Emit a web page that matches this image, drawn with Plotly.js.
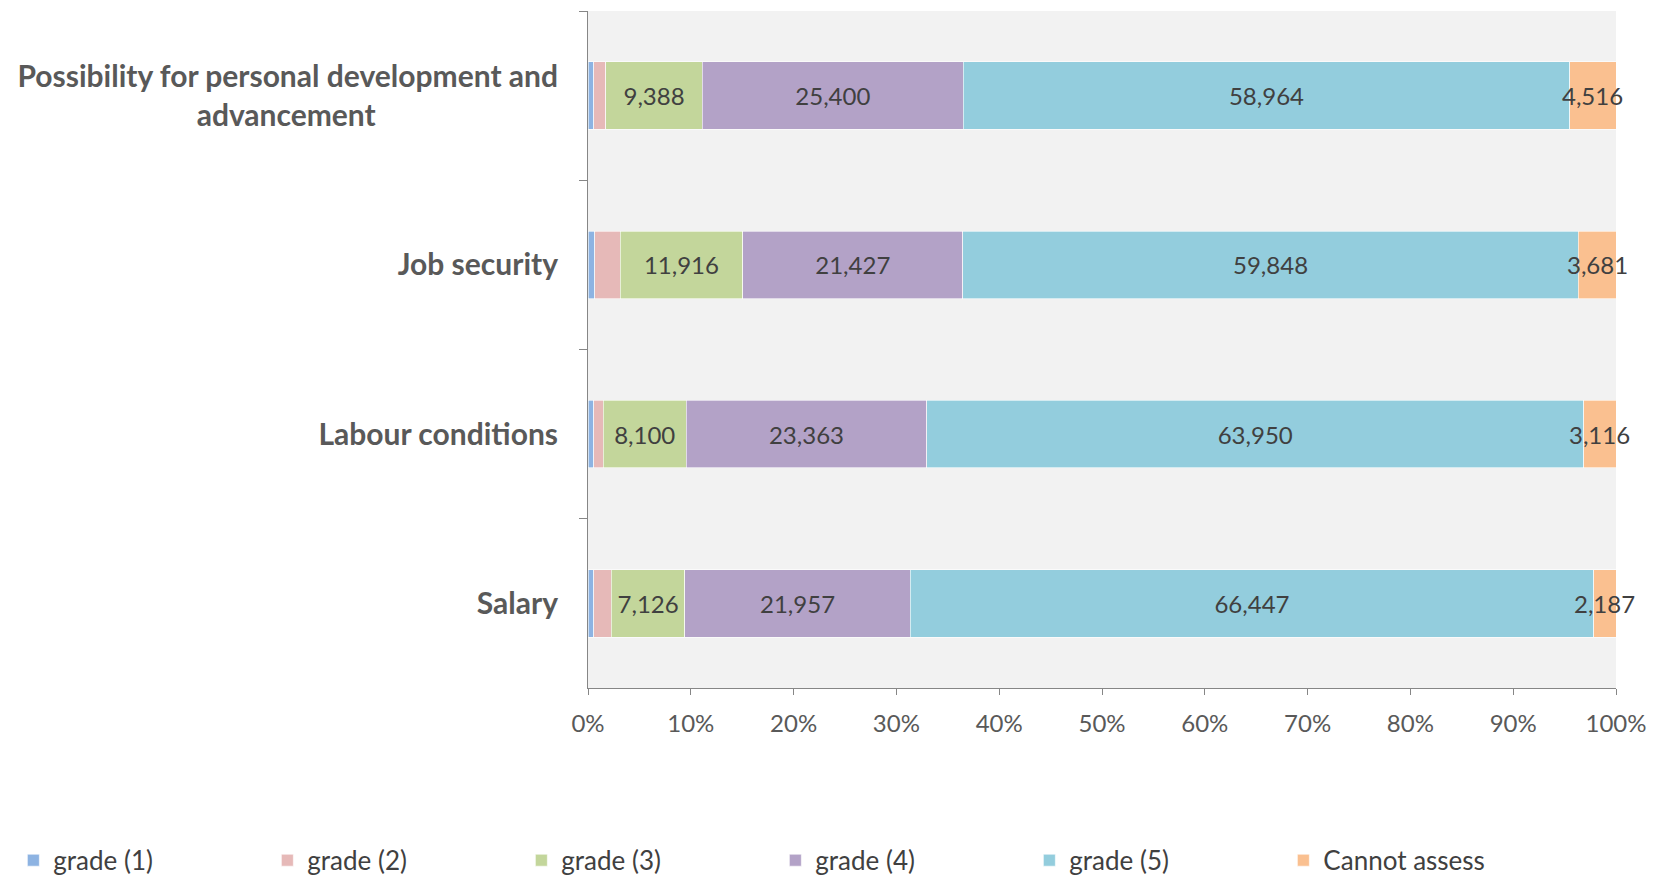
<!DOCTYPE html>
<html>
<head>
<meta charset="utf-8">
<script src="https://cdn.plot.ly/plotly-3.0.1.min.js"></script>
<style>html,body{margin:0;padding:0;background:#fff;}#chart{width:1660px;height:877px;}</style>
</head>
<body>
<div id="chart"></div>
<script>
const categories = [
  "Possibility for personal development and<br>advancement",
  "Job security",
  "Labour conditions",
  "Salary"
];
const seriesNames = ["grade (1)", "grade (2)", "grade (3)", "grade (4)", "grade (5)", "Cannot assess"];
const grade1 = [560, 680, 580, 580];
const grade2 = [1170, 2450, 890, 1700];
const grade3 = [9388, 11916, 8100, 7126];
const grade4 = [25400, 21427, 23363, 21957];
const grade5 = [58964, 59848, 63950, 66447];
const cannotAssess = [4516, 3681, 3116, 2187];
const xTickVals = [0, 10, 20, 30, 40, 50, 60, 70, 80, 90, 100];
const xTickText = ["0%", "10%", "20%", "30%", "40%", "50%", "60%", "70%", "80%", "90%", "100%"];

const colors = ["#8db3e2", "#e6b9b8", "#c3d69b", "#b3a2c7", "#93cddd", "#fac090"];
const showLabels = [false, false, true, true, true, false];
const allSeries = [grade1, grade2, grade3, grade4, grade5, cannotAssess];

// pad second line of first category so it looks centred
const padded = categories.map(c => c.replace("<br>advancement", "<br>advancement" + "\u00a0".repeat(25)));

const FONT = "Lato, 'Open Sans', sans-serif";
const fmt = v => v.toLocaleString("en-US");

const traces = allSeries.map((vals, i) => ({
  type: "bar",
  orientation: "h",
  name: seriesNames[i],
  y: padded,
  x: vals,
  text: vals.map(fmt),
  texttemplate: showLabels[i] ? "%{text}" : "",
  textposition: showLabels[i] ? "inside" : "none",
  insidetextanchor: "middle",
  textangle: 0,
  constraintext: "none",
  cliponaxis: false,
  textfont: {family: FONT, size: 24, color: "#404040"},
  marker: {color: colors[i], line: {color: "#ffffff", width: 0.6}},
  hoverinfo: "name+x"
}));

// labels for the narrow "Cannot assess" segments, centred on the segment (in percent units)
const totals = categories.map((_, r) => allSeries.reduce((s, a) => s + a[r], 0));
const annotations = cannotAssess.map((v, r) => ({
  x: (totals[r] - v / 2) / totals[r] * 100,
  y: padded[r],
  xref: "x",
  yref: "y",
  text: fmt(v),
  showarrow: false,
  xanchor: "center",
  yanchor: "middle",
  font: {family: FONT, size: 24, color: "#404040"}
}));

const layout = {
  width: 1660,
  height: 877,
  barmode: "stack",
  barnorm: "percent",
  bargap: 0.6,
  paper_bgcolor: "#ffffff",
  plot_bgcolor: "#f2f2f2",
  margin: {l: 588, r: 44, t: 11, b: 189, autoexpand: false},
  font: {family: FONT, color: "#595959"},
  annotations: annotations,
  xaxis: {
    range: [0, 100],
    tickvals: xTickVals,
    ticktext: xTickText,
    showgrid: false,
    zeroline: false,
    showline: true,
    linecolor: "#868686",
    linewidth: 1,
    ticks: "outside",
    ticklen: 6,
    tickcolor: "#868686",
    ticklabelstandoff: 8,
    tickfont: {size: 24, color: "#595959"},
    fixedrange: true
  },
  yaxis: {
    autorange: "reversed",
    type: "category",
    showgrid: false,
    zeroline: false,
    showline: true,
    linecolor: "#868686",
    linewidth: 1,
    ticks: "outside",
    tickson: "boundaries",
    ticklen: 8,
    tickcolor: "#868686",
    ticklabelstandoff: 23,
    tickfont: {size: 30, color: "#595959", weight: "bold"},
    fixedrange: true
  },
  showlegend: true,
  legend: {
    orientation: "h",
    x: -0.559,
    xanchor: "left",
    y: -0.2545,
    yanchor: "middle",
    font: {size: 26, color: "#404040"},
    entrywidth: 209,
    entrywidthmode: "pixels",
    itemwidth: 30,
    traceorder: "normal",
    bgcolor: "rgba(0,0,0,0)"
  }
};

Plotly.newPlot("chart", traces, layout, {displayModeBar: false, responsive: false});
</script>
</body>
</html>
